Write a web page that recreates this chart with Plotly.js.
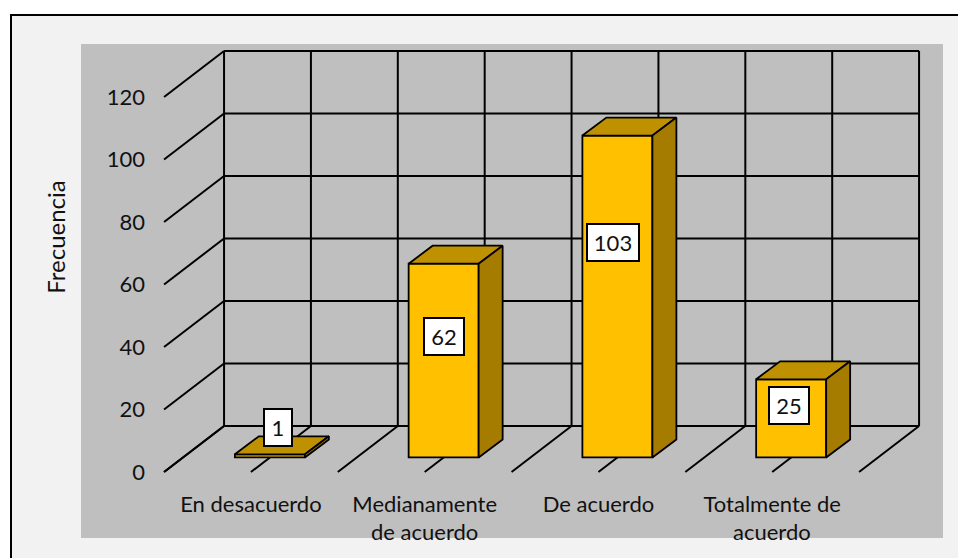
<!DOCTYPE html>
<html>
<head>
<meta charset="utf-8">
<script src="https://cdn.plot.ly/plotly-3.0.1.min.js"></script>
<style>
  html, body { margin: 0; padding: 0; background: #fff; overflow: hidden; }
  #frame { position: absolute; left: 10px; top: 14px; width: 980px; height: 580px; background: #f2f2f2; border: 2px solid #000; }
  #chart { position: absolute; left: 0; top: 0; width: 958px; height: 558px; }
</style>
</head>
<body>
<div id="frame"></div>
<div id="chart"></div>
<script type="text/javascript">

        var firstLines = ['En desacuerdo', 'Medianamente', 'De acuerdo', 'Totalmente de'];
        var secondLines = ['', 'de acuerdo', '', 'acuerdo'];
        var values = [1, 62, 103, 25];
        var yTicks = [0, 20, 40, 60, 80, 100, 120];

        // fake 3D: how far the back wall and the bars sit from the front edge, in axis units
        var wallX = 0.3453, wallY = 14.72;
        var barFront = 0.316, barW = 0.403, barDepthX = 0.138, barDepthY = 5.76;
        var baseX = wallX * barFront, baseY = wallY * barFront;

        // label boxes are hand placed in the original, pixels from the middle of the front face
        var labelW = [26, 38, 50, 38];
        var labelDx = [8, 0, -4, -2];
        var labelDy = [28, 24, 54, 13];

        var line = {color: '#000', width: 2};
        var shapes = [{
            type: 'rect', layer: 'below', xref: 'paper', yref: 'paper',
            x0: 0, x1: 1, y0: -0.1350, y1: 0.9072,
            fillcolor: '#bfbfbf', line: {width: 0}
        }];
        function seg(x0, y0, x1, y1) {
            shapes.push({type: 'line', layer: 'below', xref: 'x', yref: 'y', x0: x0, y0: y0, x1: x1, y1: y1, line: line});
        }
        yTicks.forEach(function (v) {
            seg(-0.5, v, -0.5 + wallX, v + wallY);
            seg(-0.5 + wallX, v + wallY, 3.5 + wallX, v + wallY);
        });
        for (var k = 0; k <= 8; k++) {
            var gx = -0.5 + k / 2;
            seg(gx, 0, gx + wallX, wallY);
            seg(gx + wallX, wallY, gx + wallX, 120 + wallY);
        }

        var barX = values.map(function (v, i) { return i + baseX; });

        var topX = [], topY = [], sideX = [], sideY = [];
        values.forEach(function (v, i) {
            var l = barX[i] - barW / 2, r = barX[i] + barW / 2, t = baseY + v;
            topX.push(l, r, r + barDepthX, l + barDepthX, l, null);
            topY.push(t, t, t + barDepthY, t + barDepthY, t, null);
            sideX.push(r, r + barDepthX, r + barDepthX, r, r, null);
            sideY.push(baseY, baseY + barDepthY, t + barDepthY, t, baseY, null);
        });

        var edge = {color: '#000', width: 1.8};
        var data = [
            {type: 'bar', x: barX, y: values, base: values.map(function () { return baseY; }), width: barW,
                marker: {color: '#ffc000', line: edge}, hoverinfo: 'skip'},
            {type: 'scatter', mode: 'lines', x: topX, y: topY, fill: 'toself', fillcolor: '#bf9000', line: edge, hoverinfo: 'skip'},
            {type: 'scatter', mode: 'lines', x: sideX, y: sideY, fill: 'toself', fillcolor: '#a67c00', line: edge, hoverinfo: 'skip'}
        ];

        var textFont = {family: 'Lato, sans-serif', size: 22, color: '#111'};

        var annotations = [];
        values.forEach(function (v, i) {
            annotations.push({
                x: barX[i], y: baseY + v / 2, xref: 'x', yref: 'y', text: String(v), showarrow: false,
                xshift: labelDx[i], yshift: labelDy[i], width: labelW[i], height: 35, align: 'center', valign: 'middle',
                bgcolor: '#fff', bordercolor: '#000', borderwidth: 2, borderpad: 0, font: textFont
            });
            if (secondLines[i]) {
                annotations.push({
                    x: i, y: 0, xref: 'x', yref: 'y', text: secondLines[i], showarrow: false,
                    yanchor: 'middle', yshift: -59, font: textFont
                });
            }
        });

        var layout = {
            width: 958, height: 558,
            margin: {l: 81, r: 15, t: 0, b: 84},
            paper_bgcolor: 'rgba(0,0,0,0)',
            plot_bgcolor: 'rgba(0,0,0,0)',
            showlegend: false,
            font: textFont,
            shapes: shapes,
            annotations: annotations,
            xaxis: {
                range: [-0.978, 3.983], fixedrange: true,
                tickmode: 'array', tickvals: [0, 1, 2, 3], ticktext: firstLines, tickangle: 0,
                ticks: '', ticklabelstandoff: 15, showgrid: false, zeroline: false, showline: false
            },
            yaxis: {
                range: [-0.64, 151.04], fixedrange: true,
                anchor: 'free', position: 0.0742,
                tickmode: 'array', tickvals: yTicks, ticks: '',
                showgrid: false, zeroline: false, showline: false,
                title: {text: 'Frecuencia', standoff: 33, font: {family: 'Lato, sans-serif', size: 24, color: '#111'}}
            }
        };

        Plotly.newPlot('chart', data, layout, {displayModeBar: false, staticPlot: true});
</script>
</body>
</html>
